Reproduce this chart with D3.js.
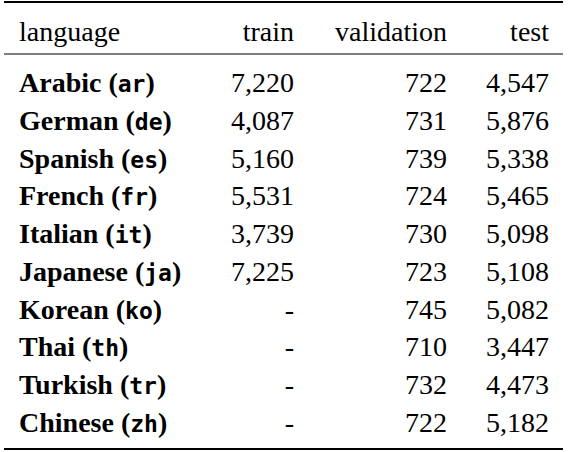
<!DOCTYPE html>
<html>
<head>
<meta charset="utf-8">
<script src="https://cdn.jsdelivr.net/npm/d3@7"></script>
<style>body{margin:0;background:#fff}</style>
</head>
<body>
<svg id="t" width="568" height="452"></svg>
<script>
// table data
var names = ["Arabic", "German", "Spanish", "French", "Italian", "Japanese", "Korean", "Thai", "Turkish", "Chinese"];
var codes = ["ar", "de", "es", "fr", "it", "ja", "ko", "th", "tr", "zh"];
var train = ["7,220", "4,087", "5,160", "5,531", "3,739", "7,225", "-", "-", "-", "-"];
var validation = ["722", "731", "739", "724", "730", "723", "745", "710", "732", "722"];
var test = ["4,547", "5,876", "5,338", "5,465", "5,098", "5,108", "5,082", "3,447", "4,473", "5,182"];
var headers = ["language", "train", "validation", "test"];

var svg = d3.select("#t");
var serif = "'Liberation Serif', 'DejaVu Serif', serif";
var mono = "'DejaVu Sans Mono', 'Liberation Mono', monospace";

var y = d3.scalePoint().domain(d3.range(names.length)).range([92, 432]);
var colX = [19, 294, 447, 549];

// rules
svg.append("line").attr("x1", 4).attr("x2", 563).attr("y1", 2).attr("y2", 2).attr("stroke", "#000").attr("stroke-width", 2);
svg.append("line").attr("x1", 4).attr("x2", 563).attr("y1", 54).attr("y2", 54).attr("stroke", "#000").attr("stroke-width", 1.2);
svg.append("line").attr("x1", 4).attr("x2", 563).attr("y1", 449).attr("y2", 449).attr("stroke", "#000").attr("stroke-width", 2);

// header
svg.selectAll("text.h").data(headers).enter().append("text")
  .attr("class", "h")
  .attr("x", function(d, i) { return colX[i]; })
  .attr("y", 41)
  .attr("text-anchor", function(d, i) { return i ? "end" : "start"; })
  .style("font-family", serif).style("font-size", "28px")
  .text(function(d) { return d; });

// language column
var lang = svg.selectAll("text.l").data(names).enter().append("text")
  .attr("class", "l")
  .attr("x", colX[0])
  .attr("y", function(d, i) { return y(i); })
  .style("font-family", serif).style("font-size", "28px").style("font-weight", "bold");
lang.append("tspan").text(function(d) { return d + " ("; });
lang.append("tspan").style("font-family", mono).style("font-size", "23px").text(function(d, i) { return codes[i]; });
lang.append("tspan").text(")");

// numeric columns
[train, validation, test].forEach(function(col, c) {
  svg.selectAll("text.c" + c).data(col).enter().append("text")
    .attr("class", "c" + c)
    .attr("x", colX[c + 1])
    .attr("y", function(d, i) { return y(i); })
    .attr("text-anchor", "end")
    .style("font-family", serif).style("font-size", "28px")
    .text(function(d) { return d; });
});
</script>
</body>
</html>
